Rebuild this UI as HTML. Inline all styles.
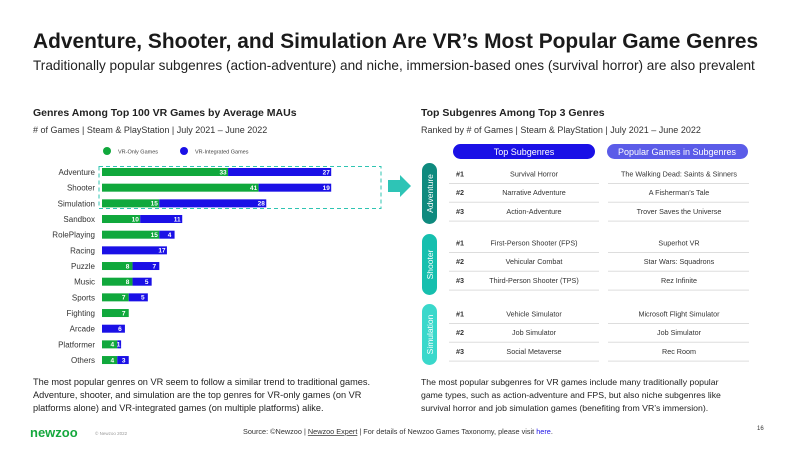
<!DOCTYPE html>
<html><head><meta charset="utf-8"><style>
body{margin:0;width:800px;height:450px;overflow:hidden;background:#fff;font-family:"Liberation Sans",sans-serif}
svg{display:block}
</style></head><body>
<svg width="800" height="450" viewBox="0 0 800 450" font-family="Liberation Sans, sans-serif">
<text x="33" y="48" font-size="20.9" font-weight="bold" fill="#1a1a1a">Adventure, Shooter, and Simulation Are VR’s Most Popular Game Genres</text>
<text x="33" y="70" font-size="13.6" fill="#222">Traditionally popular subgenres (action-adventure) and niche, immersion-based ones (survival horror) are also prevalent</text>

<text x="33" y="116" font-size="10.5" font-weight="bold" fill="#222">Genres Among Top 100 VR Games by Average MAUs</text>
<text x="33" y="133" font-size="9" fill="#333"># of Games | Steam &amp; PlayStation | July 2021 – June 2022</text>
<circle cx="107" cy="151" r="4" fill="#10a83c"/><text x="118" y="153.5" font-size="5.5" fill="#444">VR-Only Games</text>
<circle cx="184" cy="151" r="4" fill="#1a10e6"/><text x="195" y="153.5" font-size="5.5" fill="#444">VR-Integrated Games</text>

<g font-size="8" fill="#333" text-anchor="end" id="labels">
<text x="95" y="175">Adventure</text><text x="95" y="190.7">Shooter</text><text x="95" y="206.3">Simulation</text>
<text x="95" y="222">Sandbox</text><text x="95" y="237.7">RolePlaying</text><text x="95" y="253.4">Racing</text>
<text x="95" y="269">Puzzle</text><text x="95" y="284.7">Music</text><text x="95" y="300.4">Sports</text>
<text x="95" y="316">Fighting</text><text x="95" y="331.7">Arcade</text><text x="95" y="347.4">Platformer</text><text x="95" y="363">Others</text>
</g>
<g id="bars"></g>
<rect x="99" y="166.5" width="282" height="42" fill="none" stroke="#2fc4b2" stroke-width="1" stroke-dasharray="4,3"/>
<polygon points="388,180 400,180 400,175 411,186 400,197 400,192 388,192" fill="#2ec4b6"/>

<text x="421" y="116" font-size="10.5" font-weight="bold" fill="#222">Top Subgenres Among Top 3 Genres</text>
<text x="421" y="133" font-size="9" fill="#333">Ranked by # of Games | Steam &amp; PlayStation | July 2021 – June 2022</text>
<rect x="453" y="144" width="142" height="15" rx="7.5" fill="#1a10e6"/>
<text x="524" y="155" font-size="9" fill="#fff" text-anchor="middle">Top Subgenres</text>
<rect x="607" y="144" width="141" height="15" rx="7.5" fill="#5b5ce8"/>
<text x="677" y="155" font-size="9" fill="#fff" text-anchor="middle">Popular Games in Subgenres</text>

<rect x="422" y="163" width="15" height="61" rx="7.5" fill="#0f8a7e"/>
<text transform="translate(433,193.5) rotate(-90)" font-size="8.5" fill="#fff" text-anchor="middle">Adventure</text>
<rect x="422" y="234" width="15" height="61" rx="7.5" fill="#16bfae"/>
<text transform="translate(433,264.5) rotate(-90)" font-size="8.5" fill="#fff" text-anchor="middle">Shooter</text>
<rect x="422" y="304" width="15" height="61" rx="7.5" fill="#3ad8cb"/>
<text transform="translate(433,334.5) rotate(-90)" font-size="8.5" fill="#fff" text-anchor="middle">Simulation</text>
<g id="table" font-size="7.2" fill="#333"></g>

<text x="33" y="385" font-size="9.2" fill="#222">The most popular genres on VR seem to follow a similar trend to traditional games.</text>
<text x="33" y="398" font-size="9.2" fill="#222">Adventure, shooter, and simulation are the top genres for VR-only games (on VR</text>
<text x="33" y="411" font-size="9.2" fill="#222">platforms alone) and VR-integrated games (on multiple platforms) alike.</text>
<text x="421" y="385" font-size="8.7" fill="#222">The most popular subgenres for VR games include many traditionally popular</text>
<text x="421" y="398" font-size="8.7" fill="#222">game types, such as action-adventure and FPS, but also niche subgenres like</text>
<text x="421" y="411" font-size="8.7" fill="#222">survival horror and job simulation games (benefiting from VR’s immersion).</text>

<text x="30" y="437" font-size="13" font-weight="bold" fill="#15a83d">newzoo</text>
<text x="95" y="435" font-size="4.5" fill="#999">© Newzoo 2022</text>
<text x="243" y="434" font-size="7.3" fill="#333">Source: ©Newzoo | <tspan text-decoration="underline">Newzoo Expert</tspan> | For details of Newzoo Games Taxonomy, please visit <tspan fill="#1a10e6">here</tspan>.</text>
<text x="757" y="430" font-size="6" fill="#333">16</text>
</svg>
<script>
var d=[[33,27],[41,19],[15,28],[10,11],[15,4],[0,17],[8,7],[8,5],[7,5],[7,0],[0,6],[4,1],[4,3]];
var ns="http://www.w3.org/2000/svg",g=document.getElementById('bars'),s=3.82,x0=102;
function el(t,a,p,txt){var e=document.createElementNS(ns,t);for(var k in a)e.setAttribute(k,a[k]);if(txt!=null)e.textContent=txt;p.appendChild(e);return e;}
d.forEach(function(r,i){var cy=172+i*15.67,y=cy-4;
 var w1=r[0]*s,w2=r[1]*s;
 if(r[0]){el('rect',{x:x0,y:y,width:w1,height:8,fill:'#10a83c'},g);el('text',{x:x0+w1-5,y:cy+2.3,'font-size':6.5,'font-weight':'bold',fill:'#fff','text-anchor':'middle'},g,r[0]);}
 if(r[1]){el('rect',{x:x0+w1,y:y,width:w2,height:8,fill:'#1a10e6'},g);el('text',{x:x0+w1+w2-(r[1]<3?2.5:5),y:cy+2.3,'font-size':6.5,'font-weight':'bold',fill:'#fff','text-anchor':'middle'},g,r[1]);}
});
var t=document.getElementById('table');
var rows=[["Survival Horror","The Walking Dead: Saints & Sinners"],["Narrative Adventure","A Fisherman’s Tale"],["Action-Adventure","Trover Saves the Universe"],
["First-Person Shooter (FPS)","Superhot VR"],["Vehicular Combat","Star Wars: Squadrons"],["Third-Person Shooter (TPS)","Rez Infinite"],
["Vehicle Simulator","Microsoft Flight Simulator"],["Job Simulator","Job Simulator"],["Social Metaverse","Rec Room"]];
var bases=[174,243,314];
rows.forEach(function(r,i){var b=bases[Math.floor(i/3)],y=b+(i%3)*18.8;
 el('text',{x:456,y:y+2.3,'font-weight':'bold'},t,'#'+(i%3+1));
 el('text',{x:534,y:y+2.3,'text-anchor':'middle'},t,r[0]);
 el('text',{x:679,y:y+2.3,'text-anchor':'middle'},t,r[1]);
 el('line',{x1:449,x2:599,y1:y+9.5,y2:y+9.5,stroke:'#ddd','stroke-width':1},t);
 el('line',{x1:608,x2:749,y1:y+9.5,y2:y+9.5,stroke:'#ddd','stroke-width':1},t);
});
</script>
</body></html>
